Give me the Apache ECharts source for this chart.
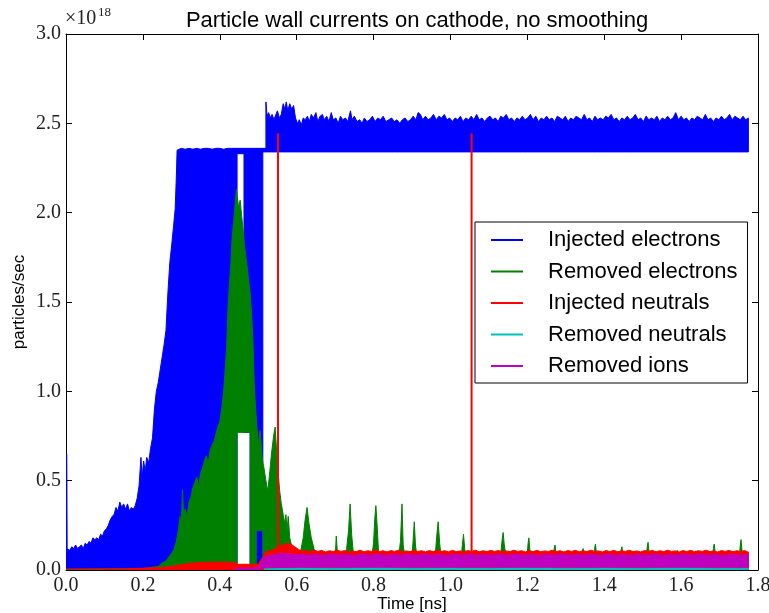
<!DOCTYPE html>
<html><head><meta charset="utf-8">
<script src="https://cdn.jsdelivr.net/npm/echarts/dist/echarts.min.js"></script>
<style>html,body{margin:0;padding:0;background:#fff}#c{width:769px;height:613px}</style>
</head><body><div id="c"></div><script>
// ---- data (x in ns, values in units of 1e18 particles/sec) ----
const seriesNames = ['Injected electrons','Removed electrons','Injected neutrals','Removed neutrals','Removed ions'];
const seriesColors = ['#0000ff','#008000','#ff0000','#00bfbf','#bf00bf'];
const xTickLabels = ['0.0','0.2','0.4','0.6','0.8','1.0','1.2','1.4','1.6','1.8'];
const yTickLabels = ['0.0','0.5','1.0','1.5','2.0','2.5','3.0'];

// each band: [x, lower envelope, upper envelope]
const injectedElectrons = [
[0.000,0,0.65],[0.002,0,0.65],[0.003,0,0.12],[0.010,0,0.11],[0.015,0,0.13],[0.020,0,0.12],[0.025,0,0.14],
[0.030,0,0.12],[0.035,0,0.13],[0.040,0,0.14],[0.045,0,0.12],[0.050,0,0.15],[0.055,0,0.14],[0.060,0,0.16],
[0.065,0,0.15],[0.070,0,0.18],[0.075,0,0.17],[0.080,0,0.18],[0.085,0,0.17],[0.090,0,0.20],[0.095,0,0.19],
[0.100,0,0.22],[0.105,0,0.23],[0.110,0,0.25],[0.115,0,0.28],[0.120,0,0.30],[0.125,0,0.31],[0.130,0,0.35],
[0.135,0,0.33],[0.140,0,0.38],[0.145,0,0.35],[0.150,0,0.37],[0.155,0,0.34],[0.160,0,0.37],[0.165,0,0.33],
[0.170,0,0.35],[0.175,0,0.34],[0.180,0,0.36],[0.185,0,0.40],[0.190,0,0.47],[0.195,0,0.63],[0.198,0,0.52],
[0.202,0,0.61],[0.206,0,0.55],[0.210,0,0.63],[0.215,0,0.60],[0.220,0,0.68],[0.225,0,0.74],[0.230,0,0.90],
[0.235,0,1.00],[0.240,0,1.05],[0.245,0,1.12],[0.250,0,1.19],[0.255,0,1.26],[0.260,0,1.34],[0.265,0,1.55],
[0.270,0,1.72],[0.275,0,1.82],[0.280,0,1.93],[0.284,0,2.02],[0.287,0,2.20],[0.289,0,2.35],[0.300,0,2.36],
[0.310,0,2.355],[0.320,0,2.36],[0.330,0,2.355],[0.340,0,2.36],[0.350,0,2.355],[0.360,0,2.36],[0.370,0,2.36],
[0.380,0,2.355],[0.390,0,2.36],[0.400,0,2.36],[0.410,0,2.355],[0.420,0,2.36],[0.430,0,2.36],[0.445,0,2.36],
[0.445,2.33,2.36],[0.463,2.33,2.36],[0.463,0.77,2.36],[0.479,0.77,2.36],[0.479,0,2.36],[0.512,0,2.36],
[0.512,2.34,2.36],[0.520,2.34,2.36],[0.520,2.34,2.62],[0.523,2.34,2.54],[0.527,2.34,2.56],[0.532,2.34,2.53],
[0.536,2.34,2.55],[0.541,2.34,2.52],[0.546,2.34,2.55],[0.550,2.34,2.57],[0.555,2.34,2.53],[0.560,2.34,2.55],
[0.565,2.34,2.61],[0.569,2.34,2.58],[0.573,2.34,2.62],[0.577,2.34,2.57],[0.582,2.34,2.61],[0.587,2.34,2.58],
[0.592,2.34,2.60],[0.597,2.34,2.53],[0.602,2.34,2.50],[0.607,2.34,2.52],[0.612,2.34,2.49],[0.617,2.34,2.53],
[0.622,2.34,2.52],[0.628,2.34,2.54],[0.633,2.34,2.51],[0.638,2.34,2.55],[0.644,2.34,2.53],[0.650,2.34,2.56],
[0.655,2.34,2.51],[0.661,2.34,2.54],[0.667,2.34,2.55],[0.672,2.34,2.52],[0.678,2.34,2.54],[0.684,2.34,2.51],
[0.690,2.34,2.56],[0.695,2.34,2.52],[0.702,2.34,2.53],[0.708,2.34,2.50],[0.714,2.34,2.54],[0.720,2.34,2.52],
[0.727,2.34,2.53],[0.733,2.34,2.51],[0.740,2.34,2.57],[0.744,2.34,2.52],[0.750,2.34,2.54],[0.757,2.34,2.51],
[0.764,2.34,2.52],[0.770,2.34,2.50],[0.776,2.34,2.53],[0.783,2.34,2.51],[0.790,2.34,2.52],[0.797,2.34,2.54],
[0.804,2.34,2.51],[0.811,2.34,2.53],[0.818,2.34,2.52],[0.825,2.34,2.54],[0.832,2.34,2.51],[0.840,2.34,2.52],
[0.847,2.34,2.53],[0.854,2.34,2.51],[0.861,2.34,2.52],[0.868,2.34,2.50],[0.875,2.34,2.52],[0.882,2.34,2.53],
[0.889,2.34,2.51],[0.896,2.34,2.52],[0.903,2.34,2.54],[0.910,2.34,2.52],[0.916,2.34,2.56],[0.922,2.34,2.55],
[0.928,2.34,2.52],[0.935,2.34,2.54],[0.942,2.34,2.52],[0.949,2.34,2.53],[0.956,2.34,2.55],[0.963,2.34,2.52],
[0.970,2.34,2.54],[0.977,2.34,2.53],[0.984,2.34,2.55],[0.991,2.34,2.52],[0.998,2.34,2.53],[1.005,2.34,2.51],
[1.012,2.34,2.53],[1.019,2.34,2.52],[1.026,2.34,2.54],[1.033,2.34,2.51],[1.040,2.34,2.53],[1.047,2.34,2.52],
[1.054,2.34,2.54],[1.061,2.34,2.52],[1.068,2.34,2.55],[1.075,2.34,2.52],[1.082,2.34,2.53],[1.089,2.34,2.51],
[1.096,2.34,2.53],[1.103,2.34,2.54],[1.110,2.34,2.52],[1.117,2.34,2.53],[1.124,2.34,2.51],[1.131,2.34,2.54],
[1.138,2.34,2.53],[1.145,2.34,2.55],[1.152,2.34,2.52],[1.159,2.34,2.53],[1.166,2.34,2.51],[1.173,2.34,2.53],
[1.180,2.34,2.52],[1.187,2.34,2.54],[1.194,2.34,2.52],[1.201,2.34,2.53],[1.208,2.34,2.55],[1.215,2.34,2.52],
[1.222,2.34,2.54],[1.229,2.34,2.51],[1.236,2.34,2.53],[1.243,2.34,2.52],[1.250,2.34,2.54],[1.257,2.34,2.52],
[1.264,2.34,2.53],[1.271,2.34,2.51],[1.278,2.34,2.54],[1.285,2.34,2.53],[1.292,2.34,2.52],[1.299,2.34,2.54],
[1.306,2.34,2.51],[1.313,2.34,2.53],[1.320,2.34,2.52],[1.327,2.34,2.54],[1.334,2.34,2.53],[1.341,2.34,2.52],
[1.348,2.34,2.55],[1.355,2.34,2.52],[1.362,2.34,2.53],[1.369,2.34,2.51],[1.376,2.34,2.54],[1.383,2.34,2.52],
[1.390,2.34,2.53],[1.397,2.34,2.52],[1.404,2.34,2.54],[1.411,2.34,2.53],[1.418,2.34,2.55],[1.425,2.34,2.52],
[1.432,2.34,2.53],[1.439,2.34,2.51],[1.446,2.34,2.53],[1.453,2.34,2.52],[1.460,2.34,2.54],[1.467,2.34,2.52],
[1.474,2.34,2.53],[1.481,2.34,2.55],[1.488,2.34,2.52],[1.495,2.34,2.53],[1.502,2.34,2.51],[1.509,2.34,2.54],
[1.516,2.34,2.52],[1.523,2.34,2.53],[1.530,2.34,2.52],[1.537,2.34,2.54],[1.544,2.34,2.51],[1.551,2.34,2.53],
[1.558,2.34,2.52],[1.565,2.34,2.54],[1.572,2.34,2.52],[1.579,2.34,2.53],[1.586,2.34,2.56],[1.593,2.34,2.52],
[1.600,2.34,2.54],[1.607,2.34,2.52],[1.614,2.34,2.53],[1.621,2.34,2.51],[1.628,2.34,2.53],[1.635,2.34,2.52],
[1.642,2.34,2.54],[1.649,2.34,2.53],[1.656,2.34,2.52],[1.663,2.34,2.55],[1.670,2.34,2.52],[1.677,2.34,2.53],
[1.684,2.34,2.51],[1.691,2.34,2.53],[1.698,2.34,2.52],[1.705,2.34,2.54],[1.712,2.34,2.52],[1.719,2.34,2.53],
[1.726,2.34,2.55],[1.733,2.34,2.52],[1.740,2.34,2.54],[1.747,2.34,2.53],[1.754,2.34,2.52],[1.761,2.34,2.54],
[1.768,2.34,2.52],[1.775,2.34,2.53]
];

const removedElectrons = [
[0.000,0,0.005],[0.200,0,0.008],[0.240,0,0.02],[0.250,0,0.04],[0.260,0,0.05],[0.270,0,0.08],[0.280,0,0.11],
[0.287,0,0.16],[0.292,0,0.22],[0.297,0,0.30],[0.300,0,0.26],[0.303,0,0.45],[0.306,0,0.30],[0.310,0,0.34],
[0.315,0,0.30],[0.320,0,0.38],[0.325,0,0.41],[0.330,0,0.46],[0.335,0,0.49],[0.340,0,0.52],[0.345,0,0.47],
[0.350,0,0.54],[0.355,0,0.57],[0.360,0,0.61],[0.365,0,0.64],[0.370,0,0.60],[0.375,0,0.67],[0.380,0,0.70],
[0.385,0,0.72],[0.390,0,0.76],[0.395,0,0.80],[0.400,0,0.83],[0.405,0,0.90],[0.410,0,1.00],[0.414,0,1.12],
[0.418,0,1.25],[0.421,0,1.44],[0.425,0,1.60],[0.429,0,1.72],[0.432,0,1.86],[0.436,0,1.95],[0.440,0,2.05],
[0.443,0,2.13],[0.445,0,2.10],[0.445,0.77,2.10],[0.449,0.77,2.03],[0.453,0.77,2.07],[0.457,0.77,1.98],
[0.460,0.77,1.92],[0.465,0.77,1.80],[0.470,0.77,1.72],[0.475,0.77,1.62],[0.479,0.77,1.55],[0.479,0,1.55],
[0.483,0,1.42],[0.486,0,1.30],[0.490,0,1.02],[0.495,0,0.85],[0.495,0.22,0.85],[0.500,0.22,0.70],[0.505,0.22,0.78],
[0.510,0.22,0.64],[0.512,0.22,0.60],[0.512,0,0.60],[0.515,0,0.57],[0.520,0,0.50],[0.525,0,0.44],[0.530,0,0.55],[0.535,0,0.66],
[0.540,0,0.75],[0.544,0,0.80],[0.548,0,0.66],[0.552,0,0.54],[0.556,0,0.44],[0.560,0,0.37],[0.565,0,0.31],
[0.569,0,0.26],[0.572,0,0.31],[0.575,0,0.22],[0.578,0,0.30],[0.582,0,0.18],[0.590,0,0.11],[0.600,0,0.08],
[0.610,0,0.10],[0.617,0,0.18],[0.622,0,0.28],[0.627,0,0.35],[0.632,0,0.26],[0.638,0,0.18],[0.645,0,0.12],
[0.655,0,0.07],[0.700,0,0.06],[0.703,0,0.19],[0.707,0,0.06],[0.725,0,0.07],[0.730,0,0.12],[0.735,0,0.22],
[0.739,0,0.37],[0.743,0,0.20],[0.748,0,0.08],[0.795,0,0.07],[0.800,0,0.15],[0.803,0,0.28],[0.806,0,0.36],
[0.809,0,0.26],[0.813,0,0.10],[0.865,0,0.07],[0.870,0,0.16],[0.874,0,0.37],[0.877,0,0.14],[0.882,0,0.07],
[0.900,0,0.07],[0.903,0,0.17],[0.906,0,0.27],[0.909,0,0.14],[0.913,0,0.07],[0.960,0,0.07],[0.964,0,0.18],
[0.968,0,0.27],[0.972,0,0.15],[0.976,0,0.07],[1.028,0,0.07],[1.031,0,0.14],[1.034,0,0.20],[1.037,0,0.12],
[1.041,0,0.07],[1.130,0,0.07],[1.134,0,0.16],[1.137,0,0.21],[1.140,0,0.14],[1.145,0,0.07],[1.199,0,0.07],
[1.202,0,0.15],[1.204,0,0.18],[1.207,0,0.10],[1.267,0,0.07],[1.270,0,0.12],[1.272,0,0.14],[1.275,0,0.09],
[1.340,0,0.07],[1.345,0,0.12],[1.349,0,0.07],[1.372,0,0.07],[1.375,0,0.12],[1.377,0,0.145],[1.380,0,0.09],
[1.441,0,0.07],[1.444,0,0.11],[1.446,0,0.13],[1.449,0,0.08],[1.509,0,0.07],[1.512,0,0.13],[1.514,0,0.155],
[1.517,0,0.09],[1.585,0,0.07],[1.590,0,0.11],[1.594,0,0.07],[1.681,0,0.07],[1.684,0,0.12],[1.686,0,0.145],
[1.689,0,0.09],[1.751,0,0.07],[1.754,0,0.14],[1.756,0,0.17],[1.759,0,0.09],[1.775,0,0.07]
];

const injectedNeutrals = [
[0.000,0,0.004],[0.150,0,0.006],[0.200,0,0.010],[0.250,0,0.014],[0.280,0,0.022],[0.300,0,0.030],[0.320,0,0.037],
[0.350,0,0.042],[0.380,0,0.044],[0.420,0,0.044],[0.440,0,0.042],[0.445,0,0.032],[0.500,0,0.032],[0.505,0,0.050],
[0.512,0,0.070],[0.518,0,0.100],[0.525,0,0.105],[0.535,0,0.110],[0.545,0,0.120],[0.555,0,0.135],[0.565,0,0.140],
[0.575,0,0.150],[0.585,0,0.145],[0.595,0,0.130],[0.605,0,0.115],[0.615,0,0.105],[0.625,0,0.110],[0.635,0,0.102],
[0.645,0,0.112],[0.655,0,0.104],[0.665,0,0.110],[0.675,0,0.101],[0.685,0,0.108],[0.695,0,0.103],[0.705,0,0.112],
[0.715,0,0.104],[0.725,0,0.109],[0.735,0,0.101],[0.745,0,0.107],[0.755,0,0.103],[0.765,0,0.111],[0.775,0,0.102],
[0.785,0,0.108],[0.795,0,0.104],[0.805,0,0.113],[0.815,0,0.103],[0.825,0,0.108],[0.835,0,0.101],[0.845,0,0.109],
[0.855,0,0.104],[0.865,0,0.111],[0.875,0,0.102],[0.885,0,0.107],[0.895,0,0.103],[0.905,0,0.110],[0.915,0,0.104],
[0.925,0,0.108],[0.935,0,0.101],[0.945,0,0.109],[0.955,0,0.103],[0.965,0,0.112],[0.975,0,0.104],[0.985,0,0.108],
[0.995,0,0.102],[1.005,0,0.110],[1.015,0,0.103],[1.025,0,0.107],[1.035,0,0.101],[1.045,0,0.109],[1.055,0,0.104],
[1.065,0,0.111],[1.075,0,0.102],[1.085,0,0.108],[1.095,0,0.103],[1.105,0,0.110],[1.115,0,0.104],[1.125,0,0.109],
[1.135,0,0.102],[1.145,0,0.107],[1.155,0,0.103],[1.165,0,0.111],[1.175,0,0.104],[1.185,0,0.108],[1.195,0,0.101],
[1.205,0,0.109],[1.215,0,0.103],[1.225,0,0.110],[1.235,0,0.102],[1.245,0,0.107],[1.255,0,0.104],[1.265,0,0.111],
[1.275,0,0.103],[1.285,0,0.108],[1.295,0,0.101],[1.305,0,0.109],[1.315,0,0.104],[1.325,0,0.110],[1.335,0,0.102],
[1.345,0,0.108],[1.355,0,0.103],[1.365,0,0.111],[1.375,0,0.104],[1.385,0,0.107],[1.395,0,0.101],[1.405,0,0.109],
[1.415,0,0.103],[1.425,0,0.110],[1.435,0,0.102],[1.445,0,0.108],[1.455,0,0.104],[1.465,0,0.111],[1.475,0,0.103],
[1.485,0,0.107],[1.495,0,0.101],[1.505,0,0.109],[1.515,0,0.104],[1.525,0,0.110],[1.535,0,0.102],[1.545,0,0.108],
[1.555,0,0.103],[1.565,0,0.111],[1.575,0,0.104],[1.585,0,0.107],[1.595,0,0.101],[1.605,0,0.109],[1.615,0,0.103],
[1.625,0,0.110],[1.635,0,0.102],[1.645,0,0.108],[1.655,0,0.104],[1.665,0,0.111],[1.675,0,0.103],[1.685,0,0.107],
[1.695,0,0.101],[1.705,0,0.109],[1.715,0,0.104],[1.725,0,0.110],[1.735,0,0.102],[1.745,0,0.108],[1.755,0,0.103],
[1.765,0,0.109],[1.775,0,0.100]
];
const neutralSpikeX = [0.5515, 1.055];
const neutralSpikeTop = [2.445, 2.445];

const removedNeutrals = [
[0.515,0.002,0.006],[0.600,0.002,0.011],[0.700,0.003,0.010],[0.800,0.002,0.012],[0.900,0.003,0.010],
[1.000,0.002,0.011],[1.100,0.003,0.010],[1.200,0.002,0.012],[1.300,0.003,0.010],[1.400,0.002,0.011],
[1.500,0.003,0.010],[1.600,0.002,0.012],[1.700,0.003,0.010],[1.775,0.002,0.010]
];

const removedIons = [
[0.440,0.004,0.010],[0.500,0.004,0.012],[0.505,0.006,0.030],[0.510,0.010,0.050],[0.515,0.012,0.070],
[0.520,0.015,0.075],[0.530,0.015,0.080],[0.540,0.015,0.085],[0.550,0.015,0.090],[0.560,0.015,0.095],
[0.570,0.015,0.090],[0.580,0.016,0.092],[0.590,0.016,0.086],[0.610,0.016,0.088],[0.630,0.016,0.083],
[0.650,0.016,0.087],[0.670,0.016,0.082],[0.690,0.016,0.088],[0.710,0.016,0.083],[0.730,0.016,0.086],
[0.750,0.016,0.081],[0.770,0.016,0.087],[0.790,0.016,0.083],[0.810,0.016,0.088],[0.830,0.016,0.082],
[0.850,0.016,0.086],[0.870,0.016,0.083],[0.890,0.016,0.087],[0.910,0.016,0.082],[0.930,0.016,0.088],
[0.950,0.016,0.083],[0.970,0.016,0.086],[0.990,0.016,0.081],[1.010,0.016,0.087],[1.030,0.016,0.083],
[1.050,0.016,0.088],[1.070,0.016,0.082],[1.090,0.016,0.086],[1.110,0.016,0.083],[1.130,0.016,0.087],
[1.150,0.016,0.082],[1.170,0.016,0.088],[1.190,0.016,0.083],[1.210,0.016,0.086],[1.230,0.016,0.081],
[1.250,0.016,0.087],[1.270,0.016,0.083],[1.290,0.016,0.088],[1.310,0.016,0.082],[1.330,0.016,0.086],
[1.350,0.016,0.083],[1.370,0.016,0.087],[1.390,0.016,0.082],[1.410,0.016,0.088],[1.430,0.016,0.083],
[1.450,0.016,0.086],[1.470,0.016,0.081],[1.490,0.016,0.087],[1.510,0.016,0.083],[1.530,0.016,0.088],
[1.550,0.016,0.082],[1.570,0.016,0.086],[1.590,0.016,0.083],[1.610,0.016,0.087],[1.630,0.016,0.082],
[1.650,0.016,0.088],[1.670,0.016,0.083],[1.690,0.016,0.086],[1.710,0.016,0.081],[1.730,0.016,0.087],
[1.750,0.016,0.083],[1.775,0.016,0.085]
];

// ---- chart ----
const chart = echarts.init(document.getElementById('c'), null, {renderer: 'canvas'});
const SANS = 'Liberation Sans';
const SERIF = 'Liberation Serif';

function bandSeries(name, color, band) {
  return {
    type: 'custom', name: name, coordinateSystem: 'cartesian2d',
    xAxisIndex: 0, yAxisIndex: 0,
    itemStyle: {color: color},
    data: [[band[0][0], band[0][1], band[0][2]]],
    encode: {x: 0, y: [1, 2]},
    clip: true, silent: true, animation: false,
    renderItem: function (params, api) {
      const top = band.map(function (p) { return api.coord([p[0], p[2]]); });
      const bot = band.slice().reverse().map(function (p) { return api.coord([p[0], p[1]]); });
      return {type: 'polygon', shape: {points: top.concat(bot)},
              style: {fill: color, stroke: color, lineWidth: 1}};
    }
  };
}

const spikeSeries = {
  type: 'custom', name: 'neutral spikes', coordinateSystem: 'cartesian2d',
  xAxisIndex: 0, yAxisIndex: 0, silent: true, animation: false, clip: true,
  data: neutralSpikeX.map(function (x, i) { return [x, 0, neutralSpikeTop[i]]; }),
  encode: {x: 0, y: [1, 2]},
  renderItem: function (params, api) {
    const a = api.coord([api.value(0), api.value(1)]);
    const b = api.coord([api.value(0), api.value(2)]);
    return {type: 'line', shape: {x1: a[0], y1: a[1], x2: b[0], y2: b[1]},
            style: {stroke: seriesColors[2], lineWidth: 2}};
  }
};

const axisCommon = {
  type: 'value', splitLine: {show: false},
  axisLine: {show: true, onZero: false, lineStyle: {color: '#000', width: 1}},
  axisTick: {show: true, inside: true, length: 6, lineStyle: {color: '#000', width: 1}}
};

const option = {
  animation: false,
  backgroundColor: '#fff',
  title: {
    text: 'Particle wall currents on cathode, no smoothing',
    left: 412, top: 5, textAlign: 'center',
    textStyle: {fontFamily: SANS, fontSize: 22, fontWeight: 'normal', color: '#000'}
  },
  grid: {left: 66, right: 11, top: 34, bottom: 43, containLabel: false, outerBoundsMode: 'none'},
  legend: {
    data: seriesNames, orient: 'vertical', left: 475, top: 222,
    padding: [7, 10, 6, 16], itemGap: 9.5, itemWidth: 32, itemHeight: 2, icon: 'rect',
    backgroundColor: '#fff', borderColor: '#000', borderWidth: 1, borderRadius: 0,
    selectedMode: false, z: 10,
    textStyle: {fontFamily: SANS, fontSize: 22, color: '#000', lineHeight: 22, padding: [0, 0, 0, 20]}
  },
  xAxis: [
    Object.assign({}, axisCommon, {
      position: 'bottom', min: 0, max: 1.8, interval: 0.2,
      name: 'Time [ns]', nameLocation: 'middle', nameGap: 25, nameMoveOverlap: false,
      nameTextStyle: {fontFamily: SANS, fontSize: 17, color: '#000', verticalAlign: 'top', lineHeight: 18},
      axisLabel: {fontFamily: SERIF, fontSize: 20, color: '#222', margin: 6,
        formatter: function (v) { return xTickLabels[Math.round(v / 0.2)]; }}
    }),
    Object.assign({}, axisCommon, {
      position: 'top', min: 0, max: 1.8, interval: 0.2, axisLabel: {show: false}
    })
  ],
  yAxis: [
    Object.assign({}, axisCommon, {
      position: 'left', min: 0, max: 3, interval: 0.5,
      name: 'particles/sec', nameLocation: 'middle', nameGap: 38, nameRotate: 90, nameMoveOverlap: false,
      nameTextStyle: {fontFamily: SANS, fontSize: 17, color: '#000'},
      axisLabel: {fontFamily: SERIF, fontSize: 20, color: '#222', margin: 5,
        formatter: function (v) { return yTickLabels[Math.round(v / 0.5)]; }}
    }),
    Object.assign({}, axisCommon, {
      position: 'right', min: 0, max: 3, interval: 0.5, axisLabel: {show: false}
    })
  ],
  graphic: [
    {type: 'text', left: 65, top: 9, style: {text: '×10', font: '20px ' + SERIF, fill: '#222'}},
    {type: 'text', left: 98, top: 6, style: {text: '18', font: '13px ' + SERIF, fill: '#222'}}
  ],
  series: [
    bandSeries(seriesNames[0], seriesColors[0], injectedElectrons),
    bandSeries(seriesNames[1], seriesColors[1], removedElectrons),
    bandSeries(seriesNames[2], seriesColors[2], injectedNeutrals),
    spikeSeries,
    bandSeries(seriesNames[3], seriesColors[3], removedNeutrals),
    bandSeries(seriesNames[4], seriesColors[4], removedIons)
  ]
};
chart.setOption(option);
</script></body></html>
